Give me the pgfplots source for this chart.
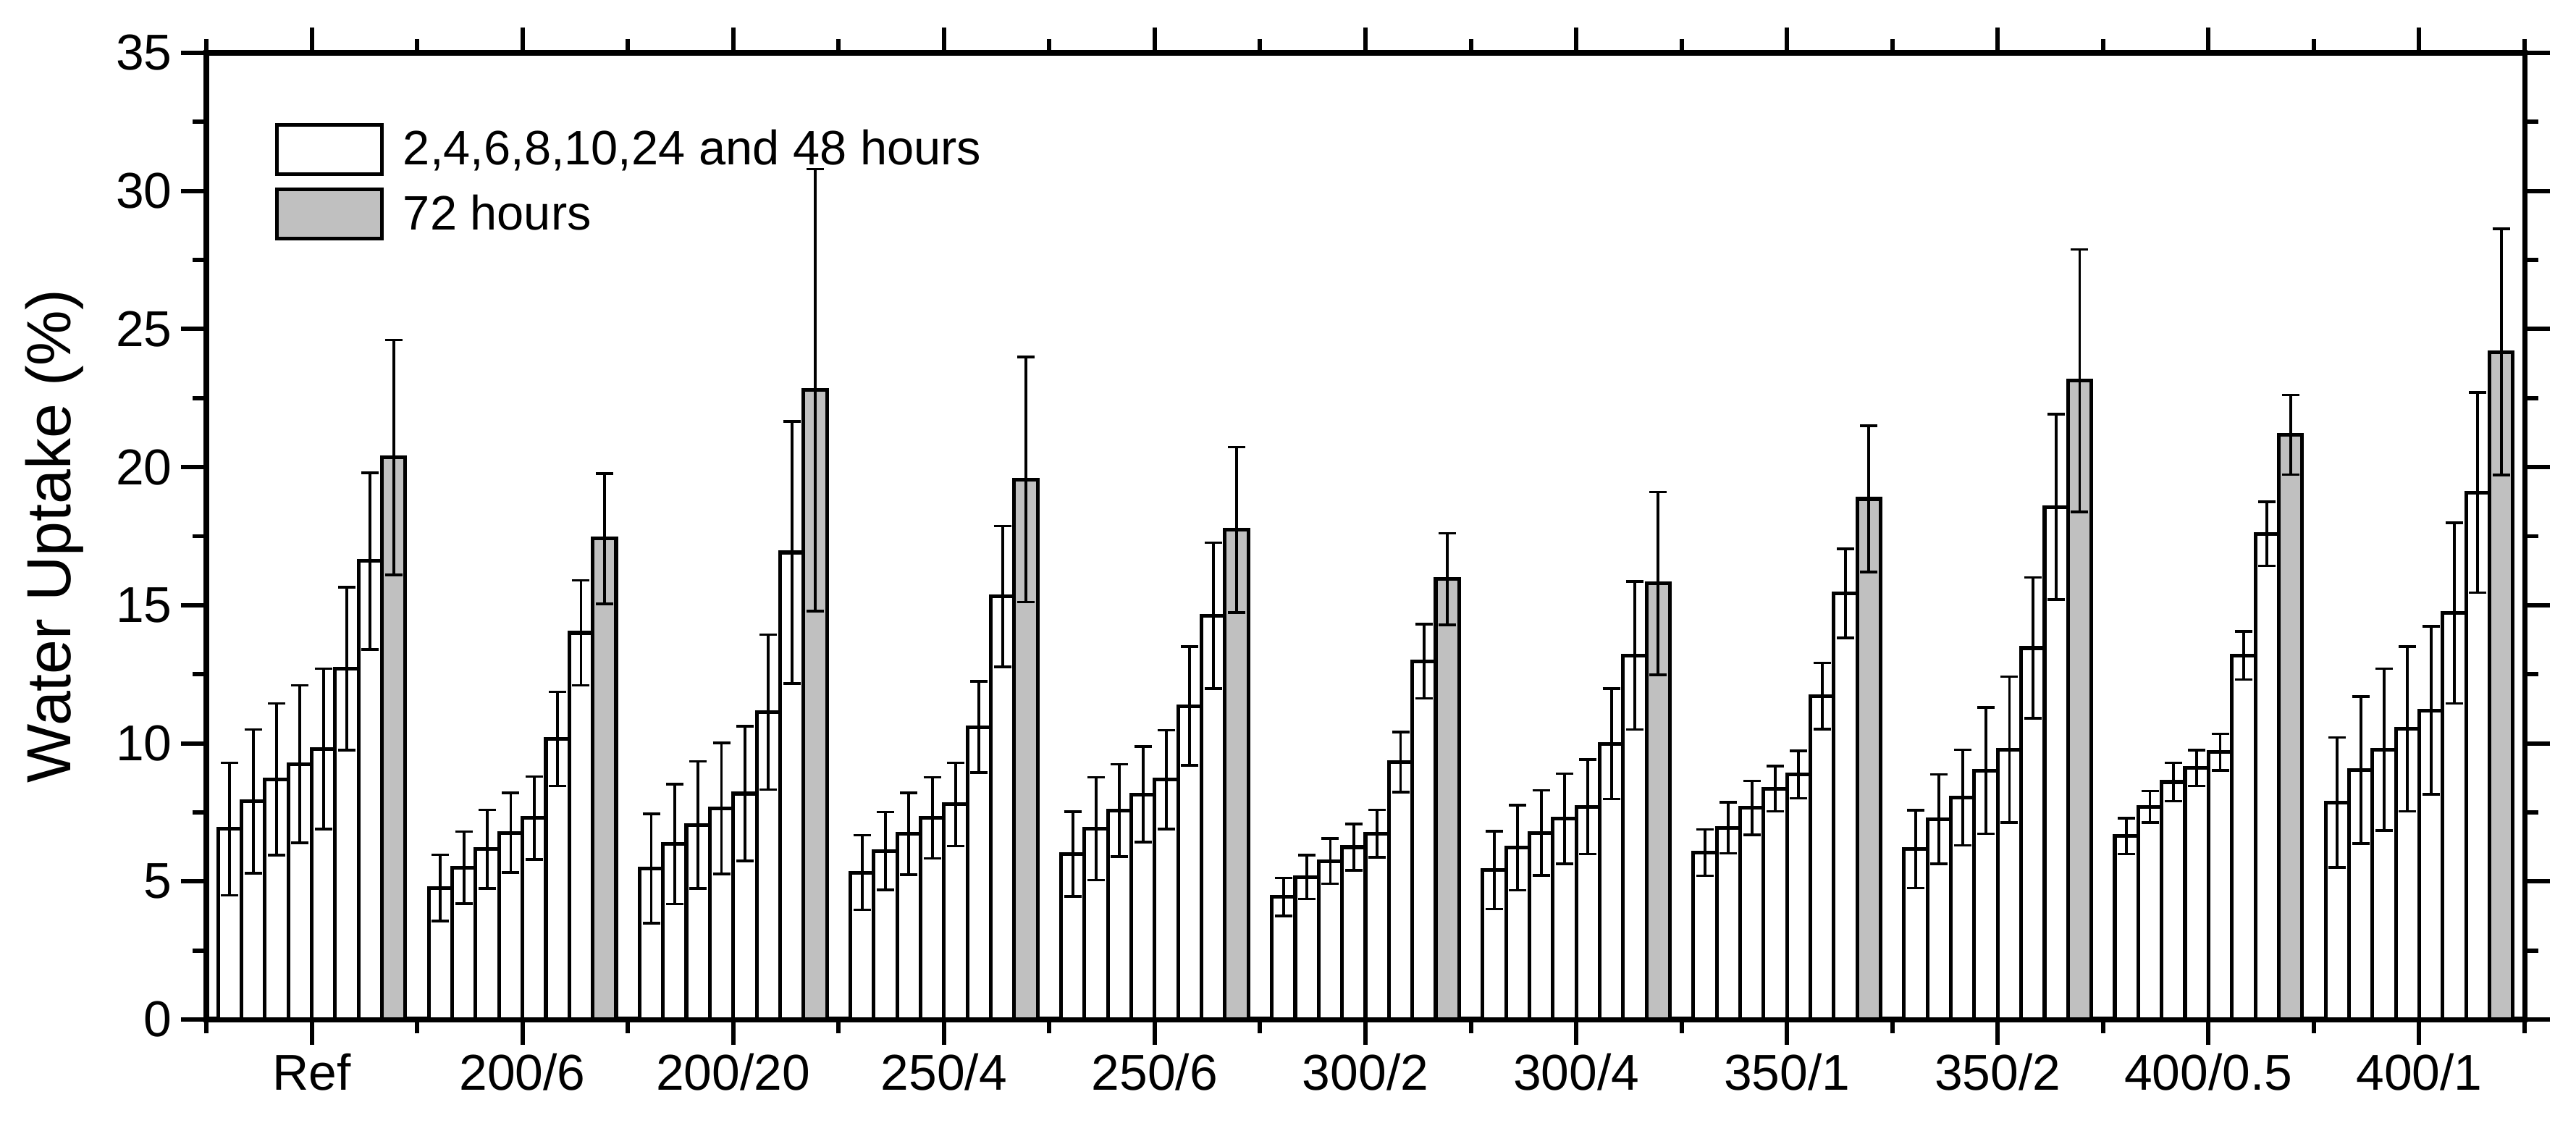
\documentclass[border=0pt]{standalone}
\usepackage{pgfplots}
\usepackage{pgfplotstable}
\usepackage{fontspec}
\setmainfont{Liberation Sans}
\pgfplotsset{compat=1.18}
\definecolor{barGrey}{RGB}{192,192,192}

\pgfplotstableread{
g a1 a2 a3 a4 a5 a6 a7 a8 e1 e2 e3 e4 e5 e6 e7 e8
1 6.90 7.90 8.70 9.25 9.80 12.70 16.60 20.35 2.40 2.60 2.75 2.85 2.90 2.95 3.20 4.25
2 4.77 5.50 6.17 6.76 7.30 10.16 14.00 17.41 1.20 1.30 1.42 1.44 1.50 1.70 1.90 2.36
3 5.47 6.35 7.05 7.64 8.18 11.13 16.91 22.79 1.98 2.17 2.30 2.37 2.44 2.80 4.74 8.00
4 5.32 6.10 6.73 7.30 7.79 10.59 15.32 19.55 1.35 1.41 1.48 1.47 1.51 1.65 2.55 4.44
5 5.99 6.91 7.57 8.15 8.69 11.35 14.62 17.73 1.53 1.86 1.67 1.73 1.79 2.15 2.64 3.00
6 4.44 5.16 5.74 6.24 6.73 9.32 12.97 15.95 0.69 0.79 0.82 0.84 0.86 1.09 1.34 1.66
7 5.41 6.22 6.76 7.27 7.70 9.98 13.18 15.79 1.41 1.54 1.54 1.63 1.71 2.00 2.68 3.31
8 6.04 6.94 7.66 8.36 8.87 11.71 15.43 18.85 0.84 0.92 0.98 0.82 0.86 1.20 1.61 2.65
9 6.17 7.25 8.04 9.01 9.77 13.45 18.56 23.13 1.41 1.62 1.73 2.29 2.64 2.55 3.36 4.75
10 6.64 7.70 8.60 9.10 9.68 13.18 17.59 21.17 0.65 0.57 0.69 0.65 0.66 0.87 1.16 1.44
11 7.86 9.03 9.77 10.52 11.19 14.71 19.08 24.17 2.35 2.66 2.93 2.98 3.04 3.27 3.63 4.46
}\uptake

\pgfplotsset{
  barbase/.style={
    /pgfplots/ybar,
    /pgfplots/bar width=0.11111,
    /pgfplots/bar shift=0pt,
    /tikz/draw=black,
    /tikz/line width=1.45pt,
    /pgfplots/legend image code/.code={\draw[##1,line width=1.45pt] (0cm,-0.34cm) rectangle (1.45cm,0.34cm);},
    /pgfplots/error bars/y dir=both,
    /pgfplots/error bars/y explicit,
    /pgfplots/error bars/error bar style={line width=1.1pt,black},
    /pgfplots/error bars/error mark options={rotate=90,mark size=0.12cm,line width=1.0pt,black},
  },
  wbar/.style={/tikz/fill=white,barbase},
  gbar/.style={/tikz/fill=barGrey,barbase},
}

\begin{document}
\begin{tikzpicture}
\begin{axis}[
  scale only axis,
  width=32.02cm, height=13.35cm,
  xmin=0.5, xmax=11.5, ymin=0, ymax=35,
  xtick={1,...,11},
  xticklabels={Ref,200/6,200/20,250/4,250/6,300/2,300/4,350/1,350/2,400/0.5,400/1},
  minor xtick={0.5,1.5,...,11.5},
  ytick={0,5,...,35},
  minor ytick={2.5,7.5,...,32.5},
  tick align=outside,
  major tick length=0.35cm,
  minor tick length=0.19cm,
  every tick/.style={black,line width=1.7pt},
  axis line style={line width=2pt},
  /pgf/number format/assume math mode=true,
  tick label style={font=\fontsize{19.8}{23}\selectfont},
  every axis y label/.style={at={(axis description cs:-0.0587,0.5)},rotate=90,anchor=base,font=\fontsize{24.5}{28}\selectfont},
  ylabel={Water Uptake (\%)},
  legend style={at={(axis description cs:0.0294,0.928)},anchor=north west,draw=none,fill=none,inner sep=0pt,
    row sep=0.16cm,font=\fontsize{19}{22}\selectfont,nodes={inner sep=0pt},
    /tikz/every odd column/.append style={column sep=0.27cm}},
  legend cell align=left,
]
\addplot[wbar] table[x expr=\thisrow{g}-0.38889,y=a1,y error=e1]{\uptake};
\addlegendentry{2,4,6,8,10,24 and 48 hours}
\addplot[wbar,forget plot] table[x expr=\thisrow{g}-0.27778,y=a2,y error=e2]{\uptake};
\addplot[wbar,forget plot] table[x expr=\thisrow{g}-0.16667,y=a3,y error=e3]{\uptake};
\addplot[wbar,forget plot] table[x expr=\thisrow{g}-0.05556,y=a4,y error=e4]{\uptake};
\addplot[wbar,forget plot] table[x expr=\thisrow{g}+0.05556,y=a5,y error=e5]{\uptake};
\addplot[wbar,forget plot] table[x expr=\thisrow{g}+0.16667,y=a6,y error=e6]{\uptake};
\addplot[wbar,forget plot] table[x expr=\thisrow{g}+0.27778,y=a7,y error=e7]{\uptake};
\addplot[gbar] table[x expr=\thisrow{g}+0.38889,y=a8,y error=e8]{\uptake};
\addlegendentry{72 hours}
\end{axis}
\pgfresetboundingbox
\path (current axis.south west) ++(-2.85cm,-1.53cm) rectangle ++(35.58cm,15.61cm);
\end{tikzpicture}
\end{document}
